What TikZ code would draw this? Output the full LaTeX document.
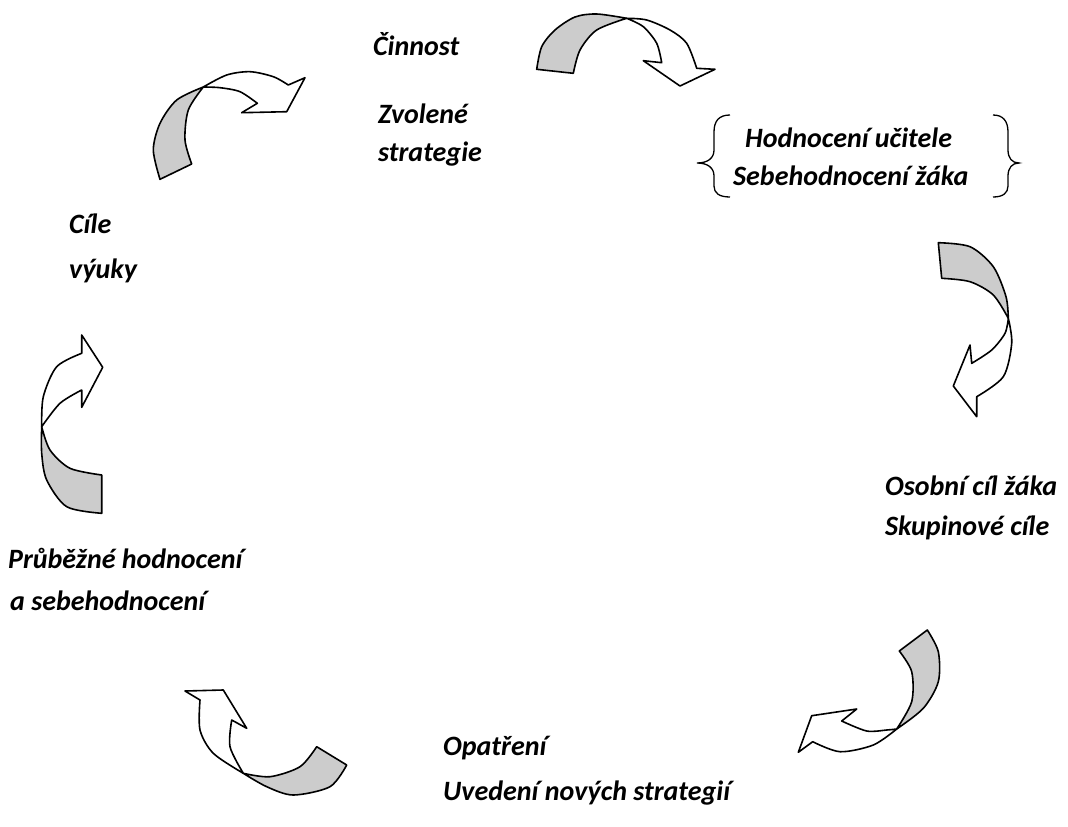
\documentclass[tikz,border=0pt]{standalone}
\usepackage{fontspec}
\setmainfont{Carlito}
\begin{document}
\begin{tikzpicture}[x=1pt,y=-1pt,
  ribbon/.style={draw=black,line width=1.6pt,line join=round},
  back/.style={ribbon,fill=ribgray},
  front/.style={ribbon,fill=white},
  lbl/.style={anchor=base west,inner sep=0pt,font=\fontsize{28}{32}\selectfont\bfseries\itshape},
  brace/.style={draw=black,line width=1.3pt}]
\definecolor{ribgray}{RGB}{204,204,204}
\useasboundingbox (0,0) rectangle (1068,827);
% Arrow 1 (top)
\path[back] plot[smooth] coordinates {(573.3,73.3) (580,50) (596.7,30) (626.7,18.3)}
  -- plot[smooth] coordinates {(626.7,18.3) (596.7,14) (575,17) (555,30) (541.7,46.7) (536.7,69.3)} -- cycle;
\path[front] plot[smooth] coordinates {(626.7,18.3) (646.7,20) (670,30) (686.7,43.3) (696.7,68.3)}
  -- (715,69.3) -- (680,86) -- (643.3,60.7) -- (661.7,62.7)
  -- plot[smooth] coordinates {(661.7,62.7) (656.7,43.3) (643.3,26.7) (626.7,18.3)} -- cycle;
% Arrow 2 (top left)
\path[back] plot[smooth] coordinates {(191.7,164) (185,140) (188.3,110) (203.3,87)}
  -- plot[smooth] coordinates {(203.3,87) (176.7,100) (160,123.3) (153.3,150) (160,179.3)} -- cycle;
\path[front] plot[smooth] coordinates {(203.3,87) (226.7,75) (250,71.7) (273.3,76.7) (288.3,85)}
  -- (305,77.7) -- (286.7,111.7) -- (241.7,112.7) -- (257.3,103.3)
  -- plot[smooth] coordinates {(257.3,103.3) (240,91.7) (220,87.7) (203.3,87)} -- cycle;
% Arrow 3 (right)
\path[back] plot[smooth] coordinates {(941.7,278.3) (970,281.7) (993.3,295) (1008.3,318.3)}
  -- plot[smooth] coordinates {(1008.3,318.3) (1006,296.7) (993.3,266.7) (970,246.7) (938.3,242.7)} -- cycle;
\path[front] plot[smooth] coordinates {(1008.3,318.3) (1011.7,343.3) (1003.3,376.7) (976.7,396.7)}
  -- (976.7,416.7) -- (953.3,386) -- (970,345) -- (971.7,363.3)
  -- plot[smooth] coordinates {(971.7,363.3) (991.7,350) (1005,333.3) (1008.3,318.3)} -- cycle;
% Arrow 4 (left)
\path[back] plot[smooth] coordinates {(101.7,475) (70,468.3) (50,450) (41.7,426.7)}
  -- plot[smooth] coordinates {(41.7,426.7) (41.7,453.3) (46.7,480) (66.7,506.7) (101.7,513.3)} -- cycle;
\path[front] plot[smooth] coordinates {(41.7,426.7) (43.3,396.7) (56.7,366.7) (81.7,353.3)}
  -- (81.7,335) -- (102.7,367.3) -- (81.7,407.3) -- (81.7,390)
  -- plot[smooth] coordinates {(81.7,390) (60,403.3) (41.7,426.7)} -- cycle;
% Arrow 5 (bottom right)
\path[back] plot[smooth] coordinates {(899.3,651) (911.7,671.7) (911.7,701.7) (896.7,729)}
  -- plot[smooth] coordinates {(896.7,729) (923.3,708.3) (938.3,681.7) (938.3,651.7) (927.3,630)} -- cycle;
\path[front] plot[smooth] coordinates {(896.7,729) (873.3,745) (840,751.7) (812.7,741.7)}
  -- (798.3,752.3) -- (811.7,715.7) -- (856.7,709) -- (841.7,721)
  -- plot[smooth] coordinates {(841.7,721) (866.7,731) (886.7,730) (896.7,729)} -- cycle;
% Arrow 6 (bottom left)
\path[back] plot[smooth] coordinates {(316.7,746.7) (300,766.7) (270,776.7) (243.3,773.3)}
  -- plot[smooth] coordinates {(243.3,773.3) (266.7,786.7) (293.3,795) (330,786.7) (346.7,765)} -- cycle;
\path[front] plot[smooth] coordinates {(243.3,773.3) (213.3,753.3) (200,730) (200,700)}
  -- (185,691) -- (223.3,690) -- (246.7,728.3) -- (231.7,720)
  -- plot[smooth] coordinates {(231.7,720) (230,746.7) (243.3,773.3)} -- cycle;
% Braces
\draw[brace] (730,115) .. controls (719,115) and (714,121) .. (714,132) -- (714,150)
  .. controls (714,158) and (708,163) .. (697,163)
  .. controls (708,163) and (714,168) .. (714,176) -- (714,186)
  .. controls (714,193) and (719,197) .. (730,197);
\draw[brace] (993,115) .. controls (1003,115) and (1008,121) .. (1008,132) -- (1008,150)
  .. controls (1008,158) and (1012,163) .. (1019,163)
  .. controls (1012,163) and (1008,168) .. (1008,176) -- (1008,186)
  .. controls (1008,193) and (1003,197) .. (993,197);
% Labels
\node[lbl] (cin) at (373,55) {Činnost};
\node[lbl] (zvo) at (378,123) {Zvolené};
\node[lbl] (str) at (378,161) {strategie};
\node[lbl] (hu) at (745,147) {Hodnocení učitele};
\node[lbl] (sz) at (733,185) {Sebehodnocení žáka};
\node[lbl] (cil) at (69,233) {Cíle};
\node[lbl] (vyu) at (69,278) {výuky};
\node[lbl] (oc) at (885,495) {Osobní cíl žáka};
\node[lbl] (sc) at (885,535) {Skupinové cíle};
\node[lbl] (ph) at (8,568) {Průběžné hodnocení};
\node[lbl] (as) at (10,610) {a sebehodnocení};
\node[lbl] (op) at (443,755) {Opatření};
\node[lbl] (un) at (443,800) {Uvedení nových strategií};
\end{tikzpicture}
\end{document}
